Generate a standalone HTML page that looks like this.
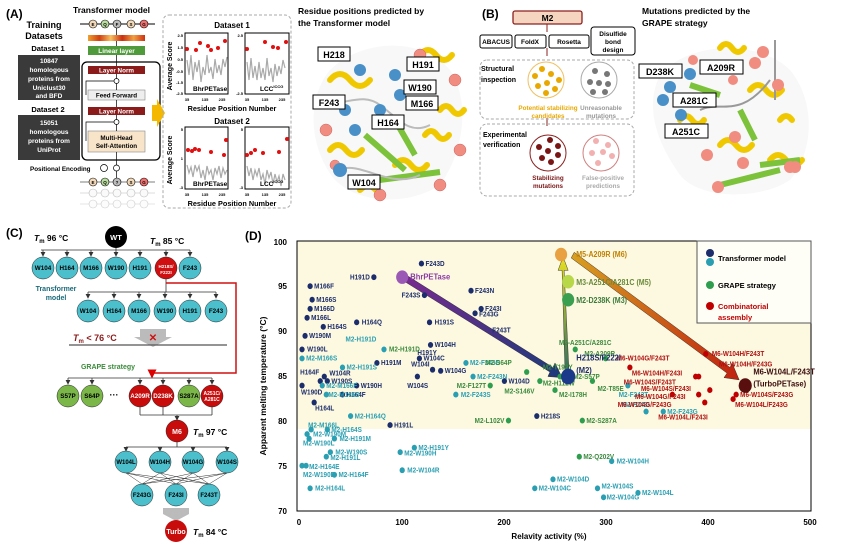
<!DOCTYPE html>
<html><head><meta charset="utf-8"><style>
body{margin:0;background:#fff}
svg{display:block;font-family:"Liberation Sans",Arial,sans-serif;font-weight:bold}
.s{font-size:6.3px}
.nv{fill:#1c2d6b}.tl{fill:#2a9fb2}.gr{fill:#3b8a3e}.rd{fill:#b01010}
</style></head><body>
<svg width="844" height="546" viewBox="0 0 844 546" xmlns="http://www.w3.org/2000/svg">
<defs>
<marker id="ah" markerWidth="6" markerHeight="6" refX="5" refY="3" orient="auto"><path d="M0,0L6,3L0,6z" fill="#333"/></marker>
<marker id="ar" markerWidth="6" markerHeight="6" refX="5" refY="3" orient="auto"><path d="M0,0L6,3L0,6z" fill="#d00"/></marker>
<linearGradient id="g1" x1="0" x2="1"><stop offset="0" stop-color="#7a2a90"/><stop offset="1" stop-color="#1c3a7a"/></linearGradient>
<linearGradient id="g2" x1="0" y1="1" x2="0" y2="0"><stop offset="0" stop-color="#2c6a60"/><stop offset="1" stop-color="#e8e020"/></linearGradient>
<linearGradient id="g3" x1="0" x2="1"><stop offset="0" stop-color="#d8a020"/><stop offset="1" stop-color="#c02010"/></linearGradient>
<linearGradient id="hb" x1="0" x2="1"><stop offset="0" stop-color="#f0a030"/><stop offset=".2" stop-color="#d04010"/><stop offset=".4" stop-color="#f8c060"/><stop offset=".6" stop-color="#c83010"/><stop offset=".8" stop-color="#f0a040"/><stop offset="1" stop-color="#d03010"/></linearGradient>
</defs>

<!-- PANEL A -->
<text x="6" y="18" font-size="12">(A)</text>
<text x="73" y="13" font-size="8.5">Transformer model</text>
<text x="44" y="28" font-size="9" text-anchor="middle">Training</text>
<text x="44" y="39" font-size="9" text-anchor="middle">Datasets</text>
<text x="48" y="51" font-size="7.5" text-anchor="middle">Dataset 1</text>
<rect x="18" y="55" width="62" height="45" fill="#3a3a3a"/>
<g fill="#fff" font-size="6.5" text-anchor="middle"><text x="49" y="63">10847</text><text x="49" y="72">homologous</text><text x="49" y="81">proteins from</text><text x="49" y="90">Uniclust30</text><text x="49" y="98">and BFD</text></g>
<text x="48" y="112" font-size="7.5" text-anchor="middle">Dataset 2</text>
<rect x="18" y="115" width="62" height="45" fill="#3a3a3a"/>
<g fill="#fff" font-size="6.5" text-anchor="middle"><text x="49" y="125">15051</text><text x="49" y="134">homologous</text><text x="49" y="143">proteins from</text><text x="49" y="152">UniProt</text></g>
<line x1="80" y1="24" x2="155" y2="24" stroke="#000"/>
<g font-size="4.5" text-anchor="middle">
<circle cx="93" cy="24" r="4" fill="#f3d9b9" stroke="#000" stroke-width=".6"/><text x="93" y="26">E</text>
<circle cx="105" cy="24" r="4" fill="#b9dca0" stroke="#000" stroke-width=".6"/><text x="105" y="26">Q</text>
<circle cx="117" cy="24" r="4" fill="#bbb" stroke="#000" stroke-width=".6"/><text x="117" y="26">F</text>
<circle cx="131" cy="24" r="4" fill="#f3d9b9" stroke="#000" stroke-width=".6"/><text x="131" y="26">S</text>
<circle cx="144" cy="24" r="4" fill="#f07070" stroke="#000" stroke-width=".6"/><text x="144" y="26">G</text>
</g>
<rect x="88" y="35" width="57" height="6" fill="url(#hb)"/>
<rect x="88" y="46" width="57" height="9" fill="#4f9a3a"/><text x="116.5" y="53" font-size="6.5" fill="#fff" text-anchor="middle">Linear layer</text>
<rect x="82" y="62" width="78" height="98" rx="5" fill="none" stroke="#000" stroke-width="1.3"/>
<rect x="88" y="66" width="57" height="8" fill="#8b1a1a"/><text x="116.5" y="72.5" font-size="6.3" fill="#fff" text-anchor="middle">Layer Norm</text>
<rect x="88" y="90" width="57" height="10" fill="#eee" stroke="#888" stroke-width=".6"/><text x="116.5" y="97.5" font-size="6.3" text-anchor="middle">Feed Forward</text>
<rect x="88" y="107" width="57" height="8" fill="#8b1a1a"/><text x="116.5" y="113.5" font-size="6.3" fill="#fff" text-anchor="middle">Layer Norm</text>
<rect x="88" y="131" width="57" height="21" fill="#f8e4c8" stroke="#888" stroke-width=".6"/><text x="116.5" y="140" font-size="6.3" text-anchor="middle">Multi-Head</text><text x="116.5" y="148" font-size="6.3" text-anchor="middle">Self-Attention</text>
<g stroke="#000" stroke-width=".7" fill="none"><line x1="116.5" y1="28" x2="116.5" y2="35"/><line x1="116.5" y1="41" x2="116.5" y2="46"/><line x1="116.5" y1="55" x2="116.5" y2="66"/><line x1="116.5" y1="74" x2="116.5" y2="90"/><line x1="116.5" y1="100" x2="116.5" y2="107"/><line x1="116.5" y1="115" x2="116.5" y2="131"/><line x1="116.5" y1="152" x2="116.5" y2="178"/><circle cx="116.5" cy="81" r="2.5" fill="#fff"/><circle cx="116.5" cy="122" r="2.5" fill="#fff"/><circle cx="116.5" cy="168" r="3" fill="#fff"/><circle cx="104" cy="168" r="3.5" fill="#fff"/><path d="M86,95V81h28M86,141V122h28"/></g>
<text x="30" y="171" font-size="6.3">Positional Encoding</text>
<g font-size="4.5" text-anchor="middle" stroke-width=".6">
<line x1="80" y1="182" x2="155" y2="182" stroke="#000"/>
<circle cx="93" cy="182" r="4" fill="#f3d9b9" stroke="#000"/><circle cx="105" cy="182" r="4" fill="#b9dca0" stroke="#000"/><circle cx="117" cy="182" r="4" fill="#bbb" stroke="#000"/><circle cx="131" cy="182" r="4" fill="#f3d9b9" stroke="#000"/><circle cx="144" cy="182" r="4" fill="#f07070" stroke="#000"/>
<text x="93" y="184">E</text><text x="105" y="184">Q</text><text x="117" y="184">?</text><text x="131" y="184">S</text><text x="144" y="184">G</text>
<line x1="80" y1="193" x2="155" y2="193" stroke="#bbb"/>
<g stroke="#bbb" fill="#fafafa"><circle cx="93" cy="193" r="4"/><circle cx="105" cy="193" r="4"/><circle cx="117" cy="193" r="4"/><circle cx="131" cy="193" r="4"/><circle cx="144" cy="193" r="4"/></g>
<line x1="80" y1="204" x2="155" y2="204" stroke="#ccc"/>
<g stroke="#ccc" fill="#fcfcfc"><circle cx="93" cy="204" r="4"/><circle cx="105" cy="204" r="4"/><circle cx="117" cy="204" r="4"/><circle cx="131" cy="204" r="4"/><circle cx="144" cy="204" r="4"/></g>
</g>
<path d="M152,105h5v-6l8,14l-8,14v-6h-5z" fill="#f5b800"/>
<rect x="163" y="15" width="128" height="193" rx="6" fill="none" stroke="#aaa" stroke-dasharray="3,2"/>
<text x="232" y="28" font-size="8" text-anchor="middle">Dataset 1</text>
<text x="232" y="111" font-size="7.3" text-anchor="middle">Residue Position Number</text>
<text x="232" y="124" font-size="8" text-anchor="middle">Dataset 2</text>
<text x="232" y="206" font-size="7.3" text-anchor="middle">Residue Position Number</text>
<g font-size="7" text-anchor="middle"><text transform="translate(172,66) rotate(-90)">Average Score</text><text transform="translate(172,160) rotate(-90)">Average Score</text></g>
<g fill="none" stroke="#aaa" stroke-width="1.2">
<path d="M187,60l2,15 2,-20 2,25 2,-18 2,10 2,-12 2,22 2,-15 2,8 2,-20 2,18 2,-6 2,12 2,-20 2,14 2,-8 2,10 2,-16 2,8 2,-10"/>
<path d="M247,62l2,18 2,-22 2,20 2,-12 2,14 2,-18 2,16 2,-10 2,12 2,-22 2,18 2,-8 2,14 2,-18 2,12 2,-10 2,8 2,-14 2,8"/>
<path d="M187,165l2,8 2,-6 2,10 2,-12 2,6 2,-5 2,12 2,-8 2,10 2,-14 2,8 2,-4 2,10 2,-12 2,6 2,-8 2,12 2,-10 2,6 2,-4"/>
<path d="M247,166l2,10 2,-8 2,12 2,-10 2,6 2,-8 2,12 2,-6 2,10 2,-14 2,8 2,-6 2,12 2,-10 2,8 2,-6 2,10 2,-12 2,6"/>
</g>
<g fill="none" stroke="#000" stroke-width="1"><rect x="185" y="33" width="43" height="61"/><rect x="245" y="33" width="44" height="61"/><rect x="185" y="127" width="43" height="62"/><rect x="245" y="127" width="44" height="62"/></g>
<g fill="#e01010"><circle cx="187" cy="49" r="2"/><circle cx="196" cy="50" r="2"/><circle cx="200" cy="43" r="2"/><circle cx="208" cy="46" r="2"/><circle cx="211" cy="50" r="2"/><circle cx="218" cy="48" r="2"/><circle cx="225" cy="41" r="2"/><circle cx="247" cy="49" r="2"/><circle cx="265" cy="42" r="2"/><circle cx="273" cy="47" r="2"/><circle cx="278" cy="48" r="2"/><circle cx="286" cy="42" r="2"/>
<circle cx="188" cy="150" r="2"/><circle cx="192" cy="151" r="2"/><circle cx="195" cy="149" r="2"/><circle cx="199" cy="150" r="2"/><circle cx="211" cy="152" r="2"/><circle cx="224" cy="155" r="2"/><circle cx="226" cy="140" r="2"/><circle cx="247" cy="155" r="2"/><circle cx="251" cy="153" r="2"/><circle cx="255" cy="150" r="2"/><circle cx="263" cy="153" r="2"/><circle cx="279" cy="152" r="2"/><circle cx="287" cy="139" r="2"/></g>
<g font-size="6.5"><text x="193" y="91">BhrPETase</text><text x="260" y="91">LCC<tspan font-size="4" dy="-3">ICCG</tspan></text><text x="193" y="186">BhrPETase</text><text x="260" y="186">LCC<tspan font-size="4" dy="-3">ICCG</tspan></text></g>
<g font-size="4" text-anchor="end"><text x="183" y="37">2.5</text><text x="183" y="49">1.5</text><text x="183" y="61">0.5</text><text x="183" y="73">-0.5</text><text x="183" y="84">-1.5</text><text x="183" y="95">-2.5</text><text x="243" y="37">2.5</text><text x="243" y="95">-2.5</text><text x="183" y="131">5</text><text x="183" y="160">1</text><text x="183" y="189">-3</text><text x="243" y="131">5</text><text x="243" y="189">-3</text></g>
<g font-size="4" text-anchor="middle"><text x="187" y="101">35</text><text x="205" y="101">135</text><text x="222" y="101">235</text><text x="247" y="101">35</text><text x="265" y="101">135</text><text x="282" y="101">235</text><text x="187" y="196">35</text><text x="205" y="196">135</text><text x="222" y="196">235</text><text x="247" y="196">35</text><text x="265" y="196">135</text><text x="282" y="196">235</text></g>

<!-- Protein A -->
<text x="298" y="14" font-size="8.5">Residue positions predicted by</text>
<text x="298" y="26" font-size="8.5">the Transformer model</text>
<g>
<path d="M330,70C360,40 420,35 450,70C470,100 465,150 440,185C410,205 360,205 335,180C310,150 305,100 330,70z" fill="#f3f3f3" opacity=".6"/>
<g fill="none" stroke="#f0c800" stroke-width="6" stroke-linecap="round">
<path d="M330,80q10,-12 20,0q10,12 20,0"/><path d="M420,55q8,-10 16,0q8,10 16,0"/><path d="M440,110q6,-8 12,0q6,8 12,0"/><path d="M330,150q8,-10 16,0q8,10 16,0"/><path d="M395,165q8,-10 16,0q8,10 16,0"/><path d="M425,135q6,-8 12,0q6,8 12,0"/><path d="M360,190q8,-8 16,0"/></g>
<g fill="none" stroke="#7cc23a" stroke-width="6"><path d="M365,135l40,35"/><path d="M380,180l60,-8"/><path d="M395,120l20,35"/></g>
<g fill="none" stroke="#bbb" stroke-width="2"><path d="M320,100c20,10 40,-10 60,5s30,30 50,20"/><path d="M340,170c20,-10 50,20 80,5"/></g>
<g fill="#f08c80" stroke="#c66" stroke-width=".5"><circle cx="326" cy="130" r="6"/><circle cx="420" cy="55" r="6"/><circle cx="455" cy="80" r="6"/><circle cx="460" cy="150" r="6"/><circle cx="440" cy="185" r="6"/><circle cx="380" cy="195" r="6"/><circle cx="335" cy="165" r="5"/></g>
<g fill="#4a90c8"><circle cx="360" cy="70" r="6"/><circle cx="395" cy="75" r="6"/><circle cx="400" cy="95" r="6"/><circle cx="345" cy="110" r="6"/><circle cx="380" cy="110" r="6"/><circle cx="355" cy="130" r="6"/><circle cx="340" cy="170" r="7"/></g>
<g fill="#fff" stroke="#000" stroke-width="1"><rect x="318" y="47" width="32" height="14"/><rect x="407" y="57" width="32" height="14"/><rect x="404" y="80" width="32" height="14"/><rect x="313" y="95" width="32" height="14"/><rect x="406" y="96" width="32" height="14"/><rect x="372" y="115" width="32" height="14"/><rect x="348" y="175" width="32" height="14"/></g>
<g font-size="9" text-anchor="middle"><text x="334" y="58">H218</text><text x="423" y="68">H191</text><text x="420" y="91">W190</text><text x="329" y="106">F243</text><text x="422" y="107">M166</text><text x="388" y="126">H164</text><text x="364" y="186">W104</text></g>
</g>

<!-- PANEL B -->
<text x="482" y="18" font-size="12">(B)</text>
<rect x="513" y="11" width="69" height="13" rx="2" fill="#f5d5c0" stroke="#8b2020" stroke-width="1.3"/><text x="547.5" y="21" font-size="8.5" text-anchor="middle">M2</text>
<g fill="none" stroke="#000" stroke-width="1"><rect x="480" y="35" width="32" height="13" rx="2"/><rect x="515" y="35" width="31" height="13" rx="2"/><rect x="549" y="35" width="40" height="13" rx="2"/><rect x="591" y="27" width="44" height="28" rx="3"/></g>
<g font-size="6.5" text-anchor="middle"><text x="496" y="44">ABACUS</text><text x="530" y="44">FoldX</text><text x="569" y="44">Rosetta</text><text x="613" y="36">Disulfide</text><text x="613" y="44">bond</text><text x="613" y="52">design</text></g>
<g stroke="#8b2020" fill="#8b2020"><line x1="547" y1="24" x2="547" y2="32"/><line x1="547" y1="48" x2="547" y2="56"/><line x1="547" y1="118" x2="547" y2="126"/></g>
<rect x="480" y="60" width="154" height="59" rx="7" fill="none" stroke="#aaa" stroke-dasharray="3,2"/>
<rect x="480" y="124" width="154" height="72" rx="7" fill="none" stroke="#aaa" stroke-dasharray="3,2"/>
<g font-size="7"><text x="481" y="71">Structural</text><text x="481" y="82">inspection</text><text x="483" y="137">Experimental</text><text x="483" y="147">verification</text></g>
<circle cx="546" cy="80" r="18" fill="#fff" stroke="#f0c060"/><circle cx="599" cy="80" r="18" fill="#fff" stroke="#aaa"/>
<circle cx="548" cy="153" r="18" fill="#fff" stroke="#8b2020"/><circle cx="601" cy="153" r="18" fill="#fff" stroke="#d08080"/>
<g fill="#e8a800"><circle cx="542" cy="69" r="3"/><circle cx="535" cy="76" r="3"/><circle cx="551" cy="74" r="3"/><circle cx="559" cy="80" r="3"/><circle cx="538" cy="86" r="3"/><circle cx="547" cy="83" r="3"/><circle cx="555" cy="89" r="3"/><circle cx="546" cy="93" r="3"/></g>
<g fill="#777"><circle cx="595" cy="71" r="3"/><circle cx="607" cy="74" r="3"/><circle cx="590" cy="82" r="3"/><circle cx="599" cy="83" r="3"/><circle cx="608" cy="84" r="3"/><circle cx="593" cy="92" r="3"/><circle cx="605" cy="92" r="3"/></g>
<g fill="#7a1515"><circle cx="550" cy="140" r="3"/><circle cx="539" cy="147" r="3"/><circle cx="558" cy="146" r="3"/><circle cx="548" cy="151" r="3"/><circle cx="558" cy="155" r="3"/><circle cx="542" cy="158" r="3"/><circle cx="551" cy="162" r="3"/></g>
<g fill="#f2b0b0"><circle cx="596" cy="141" r="3"/><circle cx="608" cy="145" r="3"/><circle cx="592" cy="153" r="3"/><circle cx="603" cy="152" r="3"/><circle cx="612" cy="156" r="3"/><circle cx="598" cy="163" r="3"/></g>
<g font-size="6.3" text-anchor="middle"><text x="548" y="110" fill="#e8a800">Potential stabilizing</text><text x="548" y="118" fill="#e8a800">candidates</text><text x="601" y="110" fill="#999">Unreasonable</text><text x="601" y="118" fill="#999">mutations</text>
<text x="548" y="180" fill="#7a1515">Stabilizing</text><text x="548" y="188" fill="#7a1515">mutations</text><text x="603" y="180" fill="#aaa">False-positive</text><text x="603" y="188" fill="#aaa">predictions</text></g>
<text x="642" y="14" font-size="8.5">Mutations predicted by the</text>
<text x="642" y="26" font-size="8.5">GRAPE strategy</text>
<g>
<path d="M660,75C690,40 760,40 790,70C815,100 815,150 790,180C760,200 700,200 680,175C655,140 645,105 660,75z" fill="#f3f3f3" opacity=".6"/>
<g fill="none" stroke="#f0c800" stroke-width="6" stroke-linecap="round"><path d="M720,48q6,-8 12,0q6,8 12,0"/><path d="M750,90q8,-10 16,0q8,10 16,0"/><path d="M720,145q8,-10 16,0q8,10 16,0"/><path d="M770,160q8,-10 16,0q8,10 16,0"/><path d="M680,120q6,-8 12,0q6,8 12,0"/><path d="M780,120q6,-8 12,0"/></g>
<g fill="none" stroke="#7cc23a" stroke-width="6"><path d="M720,185l60,-15"/><path d="M760,165l40,-5"/><path d="M690,85l30,10"/><path d="M740,110l15,30"/></g>
<g fill="none" stroke="#999" stroke-width="2"><path d="M700,110c20,-10 40,10 70,-30"/><path d="M775,40v60"/></g>
<g fill="#f08c80"><circle cx="763" cy="52" r="6"/><circle cx="755" cy="63" r="6"/><circle cx="778" cy="85" r="6"/><circle cx="733" cy="80" r="5"/><circle cx="735" cy="137" r="6"/><circle cx="707" cy="155" r="6"/><circle cx="743" cy="163" r="6"/><circle cx="790" cy="167" r="6"/><circle cx="795" cy="167" r="6"/><circle cx="718" cy="187" r="6"/><circle cx="693" cy="60" r="5"/></g>
<g fill="#4a90c8"><circle cx="690" cy="74" r="6"/><circle cx="670" cy="87" r="6"/><circle cx="663" cy="100" r="6"/><circle cx="681" cy="115" r="6"/></g>
<g fill="#fff" stroke="#000"><rect x="639" y="64" width="43" height="14"/><rect x="700" y="60" width="43" height="14"/><rect x="673" y="93" width="43" height="14"/><rect x="665" y="124" width="43" height="14"/></g>
<g font-size="9" text-anchor="middle"><text x="660" y="75">D238K</text><text x="721" y="71">A209R</text><text x="694" y="104">A281C</text><text x="686" y="135">A251C</text></g>
</g>

<!-- PANEL C -->
<text x="6" y="237" font-size="12">(C)</text>
<text x="34" y="241" font-size="8.5"><tspan font-style="italic">T</tspan><tspan font-size="6" dy="2">m</tspan><tspan dy="-2">  96 °C</tspan></text>
<circle cx="116" cy="237" r="11" fill="#000"/><text x="116" y="240" fill="#fff" font-size="7.5" text-anchor="middle">WT</text>
<text x="150" y="244" font-size="8.5"><tspan font-style="italic">T</tspan><tspan font-size="6" dy="2">m</tspan><tspan dy="-2">  85 °C</tspan></text>
<g stroke="#333" stroke-width=".8" fill="none">
<line x1="116" y1="248" x2="116" y2="250"/><line x1="41" y1="250" x2="190" y2="250"/>
<g marker-end="url(#ah)"><line x1="43" y1="250" x2="43" y2="256"/><line x1="67" y1="250" x2="67" y2="256"/><line x1="91" y1="250" x2="91" y2="256"/><line x1="116" y1="250" x2="116" y2="256"/><line x1="140" y1="250" x2="140" y2="256"/><line x1="166" y1="250" x2="166" y2="256"/><line x1="190" y1="250" x2="190" y2="256"/></g>
</g>
<g stroke="#222" stroke-width=".5">
<circle cx="43" cy="268" r="11" fill="#4bbfcc"/><circle cx="67" cy="268" r="11" fill="#4bbfcc"/><circle cx="91" cy="268" r="11" fill="#4bbfcc"/><circle cx="116" cy="268" r="11" fill="#4bbfcc"/><circle cx="140" cy="268" r="11" fill="#4bbfcc"/><circle cx="166" cy="268" r="11" fill="#d01010"/><circle cx="190" cy="268" r="11" fill="#4bbfcc"/>
</g>
<g font-size="6.3" text-anchor="middle"><text x="43" y="270">W104</text><text x="67" y="270">H164</text><text x="91" y="270">M166</text><text x="116" y="270">W190</text><text x="140" y="270">H191</text><text x="166" y="268" font-size="4.5" fill="#fff">H218S/</text><text x="166" y="274" font-size="4.5" fill="#fff">F222I</text><text x="190" y="270">F243</text></g>
<g fill="#1a6a7a" font-size="7" text-anchor="middle"><text x="56" y="291">Transformer</text><text x="56" y="300">model</text></g>
<g stroke="#333" stroke-width=".8"><line x1="166" y1="279" x2="166" y2="292"/><line x1="88" y1="292" x2="216" y2="292"/>
<g marker-end="url(#ah)"><line x1="88" y1="292" x2="88" y2="298"/><line x1="114" y1="292" x2="114" y2="298"/><line x1="139" y1="292" x2="139" y2="298"/><line x1="165" y1="292" x2="165" y2="298"/><line x1="190" y1="292" x2="190" y2="298"/><line x1="216" y1="292" x2="216" y2="298"/></g></g>
<g stroke="#222" stroke-width=".5"><circle cx="88" cy="311" r="11" fill="#4bbfcc"/><circle cx="114" cy="311" r="11" fill="#4bbfcc"/><circle cx="139" cy="311" r="11" fill="#4bbfcc"/><circle cx="165" cy="311" r="11" fill="#4bbfcc"/><circle cx="190" cy="311" r="11" fill="#4bbfcc"/><circle cx="216" cy="311" r="11" fill="#4bbfcc"/></g>
<g font-size="6.3" text-anchor="middle"><text x="88" y="313">W104</text><text x="114" y="313">H164</text><text x="139" y="313">M166</text><text x="165" y="313">W190</text><text x="190" y="313">H191</text><text x="216" y="313">F243</text></g>
<text x="73" y="341" font-size="9" fill="#8b1a1a"><tspan font-style="italic">T</tspan><tspan font-size="6" dy="2">m</tspan><tspan dy="-2"> &lt; 76 °C</tspan></text>
<path d="M140,329h26v8h6l-19,10l-19,-10h6z" fill="#bbb"/><text x="153" y="341" fill="#d01010" font-size="10" text-anchor="middle">✕</text>
<line x1="69" y1="345" x2="227" y2="345" stroke="#555" stroke-width="1.2"/>
<path d="M166,283h70v90h-84v4" fill="none" stroke="#d01010" stroke-width="1.5" marker-end="url(#ar)"/>
<text x="108" y="369" font-size="7" fill="#3a8a3a" text-anchor="middle">GRAPE strategy</text>
<g stroke="#333" stroke-width=".8"><line x1="68" y1="378" x2="212" y2="378"/>
<g marker-end="url(#ah)"><line x1="68" y1="378" x2="68" y2="384"/><line x1="92" y1="378" x2="92" y2="384"/><line x1="140" y1="378" x2="140" y2="384"/><line x1="163" y1="378" x2="163" y2="384"/><line x1="189" y1="378" x2="189" y2="384"/><line x1="212" y1="378" x2="212" y2="384"/></g>
<line x1="140" y1="407" x2="140" y2="415"/><line x1="212" y1="407" x2="212" y2="415"/><line x1="163" y1="407" x2="163" y2="415"/><line x1="140" y1="415" x2="212" y2="415"/><line x1="177" y1="415" x2="177" y2="420" marker-end="url(#ah)"/><line x1="177" y1="442" x2="177" y2="447"/><line x1="126" y1="447" x2="227" y2="447"/>
<g marker-end="url(#ah)"><line x1="126" y1="447" x2="126" y2="451"/><line x1="160" y1="447" x2="160" y2="451"/><line x1="193" y1="447" x2="193" y2="451"/><line x1="227" y1="447" x2="227" y2="451"/></g></g>
<g stroke="#222" stroke-width=".5"><circle cx="68" cy="396" r="11" fill="#7ab648"/><circle cx="92" cy="396" r="11" fill="#7ab648"/><circle cx="140" cy="396" r="11" fill="#c80c0c"/><circle cx="163" cy="396" r="11" fill="#c80c0c"/><circle cx="189" cy="396" r="11" fill="#7ab648"/><circle cx="212" cy="396" r="11" fill="#c80c0c"/><circle cx="177" cy="431" r="11" fill="#c80c0c"/></g>
<g font-size="6.3" text-anchor="middle"><text x="68" y="398">S57P</text><text x="92" y="398">S64P</text><text x="114" y="398" font-size="9">···</text><text x="140" y="398" fill="#fff">A209R</text><text x="163" y="398" fill="#fff">D238K</text><text x="189" y="398">S287A</text><text x="212" y="395" fill="#fff" font-size="5">A251C/</text><text x="212" y="401" fill="#fff" font-size="5">A281C</text><text x="177" y="434" fill="#fff" font-size="7">M6</text></g>
<text x="193" y="435" font-size="8.5"><tspan font-style="italic">T</tspan><tspan font-size="6" dy="2">m</tspan><tspan dy="-2">  97 °C</tspan></text>
<g stroke="#333" stroke-width=".5"><path d="M126,473L142,484M126,473L176,484M126,473L209,484M160,473L142,484M160,473L176,484M160,473L209,484M193,473L142,484M193,473L176,484M193,473L209,484M227,473L142,484M227,473L176,484M227,473L209,484"/></g>
<g stroke="#222" stroke-width=".5" fill="#4bbfcc"><circle cx="126" cy="462" r="11"/><circle cx="160" cy="462" r="11"/><circle cx="193" cy="462" r="11"/><circle cx="227" cy="462" r="11"/><circle cx="142" cy="495" r="11"/><circle cx="176" cy="495" r="11"/><circle cx="209" cy="495" r="11"/></g>
<g font-size="6" text-anchor="middle"><text x="126" y="464">W104L</text><text x="160" y="464">W104H</text><text x="193" y="464">W104G</text><text x="227" y="464">W104S</text><text x="142" y="497">F243G</text><text x="176" y="497">F243I</text><text x="209" y="497">F243T</text></g>
<path d="M163,508h26v6l-13,7l-13,-7z" fill="#bbb"/>
<circle cx="176" cy="531" r="11" fill="#c80c0c"/><text x="176" y="534" font-size="7" fill="#fff" text-anchor="middle">Turbo</text>
<text x="193" y="535" font-size="8.5"><tspan font-style="italic">T</tspan><tspan font-size="6" dy="2">m</tspan><tspan dy="-2">  84 °C</tspan></text>

<!-- PANEL D -->
<text x="245" y="240" font-size="12">(D)</text>
<rect x="297" y="241" width="514" height="188" fill="#fdf9e0"/>
<rect x="297" y="241" width="514" height="270" fill="none" stroke="#000" stroke-width="1"/>
<g font-size="8" text-anchor="end"><text x="287" y="245">100</text><text x="287" y="289">95</text><text x="287" y="334">90</text><text x="287" y="379">85</text><text x="287" y="424">80</text><text x="287" y="469">75</text><text x="287" y="514">70</text></g>
<g font-size="8" text-anchor="middle"><text x="299" y="525">0</text><text x="402" y="525">100</text><text x="504" y="525">200</text><text x="606" y="525">300</text><text x="708" y="525">400</text><text x="810" y="525">500</text></g>
<text x="549" y="539" font-size="8" text-anchor="middle">Relavity activity (%)</text>
<text transform="translate(266,386) rotate(-90)" font-size="8.5" text-anchor="middle">Apparent melting temperature (°C)</text>
<rect x="697" y="241" width="114" height="82" fill="#fffef6" stroke="#555"/>
<circle cx="710" cy="253" r="4" fill="#1c2d6b"/><circle cx="710" cy="262" r="4" fill="#2a9fb2"/><text x="718" y="261" font-size="7.5">Transformer model</text>
<circle cx="710" cy="285" r="4" fill="#2e9e4e"/><text x="718" y="288" font-size="7.5">GRAPE strategy</text>
<circle cx="710" cy="306" r="4" fill="#c00000"/><text x="718" y="309" font-size="7.5" fill="#c00000">Combinatorial</text><text x="718" y="320" font-size="7.5" fill="#c00000">assembly</text>

<g transform="matrix(1.0119,0,0,1.1292,-0.53,-65)">
<path d="M400,300L547,383L549,379L556,392L542,391L544,387L397,305z" fill="url(#g1)" stroke="#222" stroke-width=".4"/>
<path d="M559,390L556,297L552,297L557,285L562,297L558,297L563,390z" fill="url(#g2)" stroke="#222" stroke-width=".4"/>
<path d="M568,281L722,383L724,379L731,394L716,392L719,388L565,286z" fill="url(#g3)" stroke="#222" stroke-width=".4"/>
<g fill="#1c2d6b"><circle cx="417" cy="291" r="2.6"/><circle cx="370" cy="303" r="2.6"/><circle cx="307" cy="311" r="2.6"/><circle cx="309" cy="323" r="2.6"/><circle cx="307" cy="331" r="2.6"/><circle cx="304" cy="339" r="2.6"/><circle cx="320" cy="347" r="2.6"/><circle cx="353" cy="343" r="2.6"/><circle cx="302" cy="355" r="2.6"/><circle cx="299" cy="367" r="2.6"/><circle cx="420" cy="319" r="2.6"/><circle cx="466" cy="315" r="2.6"/><circle cx="476" cy="331" r="2.6"/><circle cx="470" cy="335" r="2.6"/><circle cx="425" cy="343" r="2.6"/><circle cx="426" cy="363" r="2.6"/><circle cx="415" cy="375" r="2.6"/><circle cx="373" cy="379" r="2.6"/><circle cx="428" cy="385" r="2.6"/><circle cx="436" cy="386" r="2.6"/><circle cx="321" cy="391" r="2.6"/><circle cx="317" cy="395" r="2.6"/><circle cx="324" cy="395" r="2.6"/><circle cx="353" cy="399" r="2.6"/><circle cx="299" cy="399" r="2.6"/><circle cx="339" cy="407" r="2.6"/><circle cx="311" cy="414" r="2.6"/><circle cx="413" cy="391" r="2.6"/><circle cx="499" cy="395" r="2.6"/><circle cx="531" cy="426" r="2.6"/><circle cx="386" cy="434" r="2.6"/></g>
<g class="s nv"><text x="421" y="293">F243D</text><text x="366" y="305" text-anchor="end">H191D</text><text x="311" y="313">M166F</text><text x="313" y="325">M166S</text><text x="311" y="333">M166D</text><text x="308" y="341">M166L</text><text x="324" y="349">H164S</text><text x="358" y="345">H164Q</text><text x="306" y="357">W190M</text><text x="304" y="369">W190L</text><text x="416" y="321" text-anchor="end">F243S</text><text x="470" y="317">F243N</text><text x="480" y="333">F243I</text><text x="474" y="338">F243G</text><text x="430" y="345">H191S</text><text x="487" y="352">F243T</text><text x="430" y="365">W104H</text><text x="413" y="372">H191Y</text><text x="419" y="377">W104C</text><text x="377" y="381">H191M</text><text x="425" y="382" text-anchor="end">W104I</text><text x="440" y="388">W104G</text><text x="316" y="389" text-anchor="end">H164F</text><text x="326" y="390">W104R</text><text x="328" y="397">W190S</text><text x="357" y="401">W190H</text><text x="298" y="407">W190D</text><text x="343" y="409">H164F</text><text x="312" y="421">H164L</text><text x="403" y="401">W104S</text><text x="503" y="397">W104D</text><text x="535" y="428">H218S</text><text x="390" y="436">H191L</text></g>
<g fill="#2a9fb2"><circle cx="299" cy="375" r="2.6"/><circle cx="380" cy="367" r="2.6"/><circle cx="339" cy="383" r="2.6"/><circle cx="319" cy="399" r="2.6"/><circle cx="323" cy="407" r="2.6"/><circle cx="461" cy="379" r="2.6"/><circle cx="468" cy="391" r="2.6"/><circle cx="451" cy="407" r="2.6"/><circle cx="347" cy="426" r="2.6"/><circle cx="308" cy="438" r="2.6"/><circle cx="324" cy="438" r="2.6"/><circle cx="304" cy="442" r="2.6"/><circle cx="306" cy="446" r="2.6"/><circle cx="331" cy="446" r="2.6"/><circle cx="327" cy="458" r="2.6"/><circle cx="323" cy="462" r="2.6"/><circle cx="410" cy="454" r="2.6"/><circle cx="396" cy="458" r="2.6"/><circle cx="299" cy="470" r="2.6"/><circle cx="303" cy="470" r="2.6"/><circle cx="331" cy="478" r="2.6"/><circle cx="398" cy="474" r="2.6"/><circle cx="307" cy="490" r="2.6"/><circle cx="621" cy="399" r="2.6"/><circle cx="639" cy="422" r="2.6"/><circle cx="656" cy="422" r="2.6"/><circle cx="605" cy="466" r="2.6"/><circle cx="547" cy="482" r="2.6"/><circle cx="529" cy="490" r="2.6"/><circle cx="591" cy="490" r="2.6"/><circle cx="597" cy="498" r="2.6"/><circle cx="631" cy="494" r="2.6"/></g>
<g class="s tl"><text x="303" y="377">M2-M166S</text><text x="342" y="360">M2-H191D</text><text x="343" y="385">M2-H191S</text><text x="323" y="401">M2-M166F</text><text x="325" y="409">M2-M166D</text><text x="465" y="381">M2-F243D</text><text x="472" y="393">M2-F243N</text><text x="456" y="409">M2-F243S</text><text x="351" y="428">M2-H164Q</text><text x="305" y="436">M2-M166L</text><text x="328" y="440">M2-H164S</text><text x="310" y="444">M2-W190M</text><text x="300" y="452">M2-W190L</text><text x="336" y="448">M2-H191M</text><text x="332" y="460">M2-W190S</text><text x="327" y="465">M2-H191L</text><text x="414" y="456">M2-H191Y</text><text x="400" y="461">M2-W190H</text><text x="306" y="473">M2-H164E</text><text x="300" y="480">M2-W190D</text><text x="335" y="480">M2-H164F</text><text x="403" y="476">M2-W104R</text><text x="312" y="492">M2-H164L</text><text x="612" y="409">M2-F243T</text><text x="615" y="418">M2-F243I</text><text x="660" y="424">M2-F243G</text><text x="610" y="468">M2-W104H</text><text x="551" y="484">M2-W104D</text><text x="533" y="492">M2-W104C</text><text x="595" y="490">M2-W104S</text><text x="600" y="500">M2-W104G</text><text x="635" y="496">M2-W104L</text></g>
<g fill="#2e9e4e"><circle cx="521" cy="387" r="2.6"/><circle cx="554" cy="391" r="2.6"/><circle cx="485" cy="399" r="2.6"/><circle cx="534" cy="395" r="2.6"/><circle cx="549" cy="403" r="2.6"/><circle cx="586" cy="395" r="2.6"/><circle cx="569" cy="367" r="2.6"/><circle cx="599" cy="375" r="2.6"/><circle cx="503" cy="430" r="2.6"/><circle cx="576" cy="430" r="2.6"/><circle cx="573" cy="462" r="2.6"/></g>
<g class="s gr"><text x="385" y="369">M2-H191D</text><text x="480" y="381">M2-S64P</text><text x="537" y="385">M2-T192Y</text><text x="481" y="401" text-anchor="end">M2-F127T</text><text x="499" y="406">M2-S146V</text><text x="537" y="399">M2-H112W</text><text x="553" y="409">M2-I178H</text><text x="567" y="393">M2-S57P</text><text x="591" y="404">M2-T85E</text><text x="553" y="363">M2-A251C/A281C</text><text x="578" y="373">M2-A209R</text><text x="499" y="432" text-anchor="end">M2-L102V</text><text x="580" y="432">M2-S287A</text><text x="577" y="464">M2-Q202V</text></g>
<g fill="#c00000"><circle cx="698" cy="371" r="2.6"/><circle cx="623" cy="383" r="2.6"/><circle cx="688" cy="391" r="2.6"/><circle cx="691" cy="391" r="2.6"/><circle cx="702" cy="403" r="2.6"/><circle cx="665" cy="407" r="2.6"/><circle cx="691" cy="407" r="2.6"/><circle cx="697" cy="414" r="2.6"/><circle cx="728" cy="407" r="2.6"/><circle cx="725" cy="411" r="2.6"/></g>
<g class="s rd"><text x="704" y="373">M6-W104H/F243T</text><text x="610" y="377">M6-W104G/F243T</text><text x="711" y="382">M6-W104H/F243G</text><text x="625" y="390">M6-W104H/F243I</text><text x="617" y="398">M6-W104S/F243T</text><text x="634" y="404">M6-W104S/F243I</text><text x="628" y="411">M6-W104G/F243I</text><text x="611" y="418">M6-W104G/F243G</text><text x="651" y="429">M6-W104L/F243I</text><text x="732" y="409">M6-W104S/F243G</text><text x="727" y="418">M6-W104L/F243G</text></g>
<circle cx="398" cy="303" r="6" fill="#9b59b6"/><text x="406" y="305" font-size="7.5" fill="#8a3aa8">BhrPETase</text>
<circle cx="562" cy="391" r="7" fill="#1c3a8a"/><g font-size="7.5" fill="#1c2d6b"><text x="570" y="377">H218S/F222I</text><text x="570" y="388">(M2)</text></g>
<circle cx="562" cy="323" r="6" fill="#3aa050"/><text x="570" y="326" font-size="7" fill="#3a7a3a">M2-D238K (M3)</text>
<circle cx="562" cy="307" r="6" fill="#b8d84a"/><text x="570" y="310" font-size="7" fill="#6a8a3a">M3-A251C/A281C (M5)</text>
<circle cx="555" cy="283" r="6" fill="#e8a040"/><text x="570" y="285" font-size="7" fill="#c08000">M5-A209R (M6)</text>
<circle cx="737" cy="399" r="6.5" fill="#5a0f0f"/><g font-size="7.5" fill="#3a0a0a"><text x="745" y="389">M6-W104L/F243T</text><text x="745" y="400">(TurboPETase)</text></g>
</g>
</svg>
</body></html>
